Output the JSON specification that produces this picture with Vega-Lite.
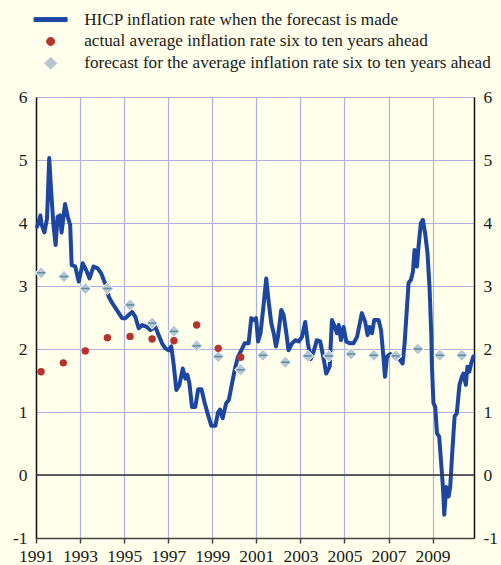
{
  "$schema": "https://vega.github.io/schema/vega-lite/v6.json",
  "autosize": {"type": "none"},
  "width": 438,
  "height": 441,
  "padding": {"left": 36, "right": 27, "top": 97, "bottom": 27},
  "background": "#FFFFEB",
  "config": {
    "view": {"stroke": null},
    "font": "Liberation Serif",
    "axis": {"labelFont": "Liberation Serif", "labelFontSize": 17.5, "labelColor": "#1a1a1a", "title": null}
  },
  "datasets": {
    "hicp": [
      {"t": 1991.05, "v": 3.94}, {"t": 1991.2, "v": 4.12}, {"t": 1991.26, "v": 3.97}, {"t": 1991.38, "v": 3.85},
      {"t": 1991.5, "v": 4.07}, {"t": 1991.6, "v": 5.03}, {"t": 1991.68, "v": 4.55}, {"t": 1991.79, "v": 3.97},
      {"t": 1991.89, "v": 3.65}, {"t": 1991.98, "v": 4.1}, {"t": 1992.09, "v": 4.12}, {"t": 1992.16, "v": 3.85},
      {"t": 1992.32, "v": 4.3}, {"t": 1992.44, "v": 4.1}, {"t": 1992.55, "v": 3.97}, {"t": 1992.62, "v": 3.33},
      {"t": 1992.78, "v": 3.31}, {"t": 1992.94, "v": 3.07}, {"t": 1993.12, "v": 3.36}, {"t": 1993.28, "v": 3.25},
      {"t": 1993.43, "v": 3.12}, {"t": 1993.61, "v": 3.31}, {"t": 1993.8, "v": 3.28}, {"t": 1993.96, "v": 3.2},
      {"t": 1994.07, "v": 3.1}, {"t": 1994.2, "v": 2.99}, {"t": 1994.3, "v": 2.83}, {"t": 1994.46, "v": 2.73},
      {"t": 1994.61, "v": 2.65}, {"t": 1994.76, "v": 2.57}, {"t": 1994.91, "v": 2.49}, {"t": 1995.06, "v": 2.49},
      {"t": 1995.21, "v": 2.54}, {"t": 1995.36, "v": 2.59}, {"t": 1995.51, "v": 2.51}, {"t": 1995.66, "v": 2.33},
      {"t": 1995.82, "v": 2.38}, {"t": 1996.04, "v": 2.35}, {"t": 1996.19, "v": 2.3}, {"t": 1996.42, "v": 2.35},
      {"t": 1996.57, "v": 2.22}, {"t": 1996.72, "v": 2.09}, {"t": 1996.87, "v": 2.01}, {"t": 1997.02, "v": 1.98},
      {"t": 1997.14, "v": 2.04}, {"t": 1997.25, "v": 1.75}, {"t": 1997.37, "v": 1.35}, {"t": 1997.51, "v": 1.43},
      {"t": 1997.66, "v": 1.69}, {"t": 1997.78, "v": 1.53}, {"t": 1997.87, "v": 1.59}, {"t": 1997.96, "v": 1.46},
      {"t": 1998.08, "v": 1.08}, {"t": 1998.23, "v": 1.08}, {"t": 1998.36, "v": 1.36}, {"t": 1998.51, "v": 1.36},
      {"t": 1998.66, "v": 1.14}, {"t": 1998.81, "v": 0.95}, {"t": 1998.96, "v": 0.78}, {"t": 1999.14, "v": 0.78},
      {"t": 1999.26, "v": 0.99}, {"t": 1999.35, "v": 1.04}, {"t": 1999.47, "v": 0.9}, {"t": 1999.63, "v": 1.14},
      {"t": 1999.75, "v": 1.19}, {"t": 1999.9, "v": 1.46}, {"t": 2000.05, "v": 1.72}, {"t": 2000.17, "v": 1.88},
      {"t": 2000.32, "v": 1.98}, {"t": 2000.47, "v": 2.09}, {"t": 2000.65, "v": 2.09}, {"t": 2000.77, "v": 2.49},
      {"t": 2000.88, "v": 2.46}, {"t": 2000.99, "v": 2.49}, {"t": 2001.08, "v": 2.12}, {"t": 2001.19, "v": 2.25},
      {"t": 2001.33, "v": 2.7}, {"t": 2001.45, "v": 3.12}, {"t": 2001.56, "v": 2.75}, {"t": 2001.68, "v": 2.41},
      {"t": 2001.79, "v": 2.25}, {"t": 2001.89, "v": 2.04}, {"t": 2001.98, "v": 2.19}, {"t": 2002.13, "v": 2.62},
      {"t": 2002.24, "v": 2.54}, {"t": 2002.35, "v": 2.28}, {"t": 2002.46, "v": 1.98}, {"t": 2002.62, "v": 2.09},
      {"t": 2002.77, "v": 2.14}, {"t": 2002.92, "v": 2.12}, {"t": 2003.07, "v": 2.19}, {"t": 2003.22, "v": 2.43},
      {"t": 2003.34, "v": 2.09}, {"t": 2003.47, "v": 1.84}, {"t": 2003.6, "v": 1.96}, {"t": 2003.75, "v": 2.14},
      {"t": 2003.9, "v": 2.12}, {"t": 2003.98, "v": 1.98}, {"t": 2004.08, "v": 1.8}, {"t": 2004.17, "v": 1.61},
      {"t": 2004.33, "v": 1.72}, {"t": 2004.43, "v": 2.46}, {"t": 2004.53, "v": 2.38}, {"t": 2004.66, "v": 2.25},
      {"t": 2004.74, "v": 2.38}, {"t": 2004.84, "v": 2.14}, {"t": 2004.96, "v": 2.35}, {"t": 2005.08, "v": 2.12},
      {"t": 2005.23, "v": 2.09}, {"t": 2005.41, "v": 2.09}, {"t": 2005.57, "v": 2.19}, {"t": 2005.79, "v": 2.57},
      {"t": 2005.94, "v": 2.43}, {"t": 2006.05, "v": 2.22}, {"t": 2006.14, "v": 2.35}, {"t": 2006.25, "v": 2.25},
      {"t": 2006.35, "v": 2.46}, {"t": 2006.55, "v": 2.46}, {"t": 2006.66, "v": 2.3}, {"t": 2006.75, "v": 1.95},
      {"t": 2006.84, "v": 1.56}, {"t": 2006.93, "v": 1.88}, {"t": 2007.08, "v": 1.92}, {"t": 2007.26, "v": 1.88},
      {"t": 2007.45, "v": 1.86}, {"t": 2007.64, "v": 1.77}, {"t": 2007.73, "v": 2.09}, {"t": 2007.83, "v": 2.62},
      {"t": 2007.91, "v": 3.05}, {"t": 2008.02, "v": 3.1}, {"t": 2008.11, "v": 3.23}, {"t": 2008.18, "v": 3.57},
      {"t": 2008.29, "v": 3.31}, {"t": 2008.36, "v": 3.62}, {"t": 2008.47, "v": 4.0}, {"t": 2008.56, "v": 4.05},
      {"t": 2008.66, "v": 3.84}, {"t": 2008.77, "v": 3.52}, {"t": 2008.86, "v": 2.99}, {"t": 2008.94, "v": 2.25},
      {"t": 2008.97, "v": 1.72}, {"t": 2009.04, "v": 1.14}, {"t": 2009.12, "v": 1.08}, {"t": 2009.2, "v": 0.66},
      {"t": 2009.3, "v": 0.61}, {"t": 2009.39, "v": 0.19}, {"t": 2009.47, "v": -0.19}, {"t": 2009.53, "v": -0.63},
      {"t": 2009.62, "v": -0.19}, {"t": 2009.73, "v": -0.34}, {"t": 2009.8, "v": -0.19}, {"t": 2009.9, "v": 0.4},
      {"t": 2010.0, "v": 0.93}, {"t": 2010.1, "v": 0.98}, {"t": 2010.22, "v": 1.43}, {"t": 2010.33, "v": 1.56},
      {"t": 2010.4, "v": 1.61}, {"t": 2010.51, "v": 1.43}, {"t": 2010.58, "v": 1.72}, {"t": 2010.67, "v": 1.64},
      {"t": 2010.75, "v": 1.77}, {"t": 2010.85, "v": 1.88}
    ],
    "actual": [
      {"t": 1991.23, "v": 1.64}, {"t": 1992.24, "v": 1.78}, {"t": 1993.24, "v": 1.97}, {"t": 1994.24, "v": 2.18},
      {"t": 1995.27, "v": 2.2}, {"t": 1996.27, "v": 2.16}, {"t": 1997.26, "v": 2.13}, {"t": 1998.29, "v": 2.38},
      {"t": 1999.27, "v": 2.01}, {"t": 2000.29, "v": 1.87}
    ],
    "forecast": [
      {"t": 1991.23, "v": 3.21}, {"t": 1992.27, "v": 3.15}, {"t": 1993.24, "v": 2.96}, {"t": 1994.24, "v": 2.96},
      {"t": 1995.27, "v": 2.7}, {"t": 1996.27, "v": 2.41}, {"t": 1997.26, "v": 2.28}, {"t": 1998.29, "v": 2.05},
      {"t": 1999.27, "v": 1.88}, {"t": 2000.29, "v": 1.67}, {"t": 2001.3, "v": 1.9}, {"t": 2002.32, "v": 1.79},
      {"t": 2003.33, "v": 1.89}, {"t": 2004.29, "v": 1.89}, {"t": 2005.3, "v": 1.92}, {"t": 2006.33, "v": 1.9},
      {"t": 2007.33, "v": 1.89}, {"t": 2008.33, "v": 2.0}, {"t": 2009.33, "v": 1.9}, {"t": 2010.33, "v": 1.9}
    ]
  },
  "encoding": {
    "x": {"type": "quantitative", "scale": {"domain": [1991, 2010.88], "nice": false, "zero": false}}
  },
  "layer": [
    {
      "data": {"name": "hicp"},
      "mark": {"type": "line", "strokeWidth": 4, "strokeJoin": "round", "strokeCap": "round"},
      "encoding": {
        "x": {"field": "t", "type": "quantitative",
          "axis": {"values": [1991, 1993, 1995, 1997, 1999, 2001, 2003, 2005, 2007, 2009], "format": "d",
            "labelFont": "Liberation Serif", "labelFontSize": 17.5, "labelColor": "#1a1a1a",
            "grid": true, "gridColor": "#ABB2DF", "gridWidth": 1.2, "domainColor": "#444444", "domainWidth": 1.5,
            "tickColor": "#444444", "tickWidth": 1.5, "tickSize": 5, "labelPadding": 4, "labelFlush": false, "labelOverlap": false}},
        "y": {"field": "v", "type": "quantitative", "scale": {"domain": [-1, 6], "nice": false, "zero": false},
          "axis": {"orient": "left", "values": [-1, 0, 1, 2, 3, 4, 5, 6], "labelExpr": "datum.value + ''",
            "grid": true, "gridColor": "#ABB2DF", "gridWidth": 1.2,
            "labelFont": "Liberation Serif", "labelFontSize": 17.5, "labelColor": "#1a1a1a",
            "ticks": false, "domainColor": "#111111", "domainWidth": 1.5, "labelPadding": 9}},
        "color": {"datum": "HICP inflation rate when the forecast is made", "type": "nominal",
          "scale": {
            "domain": ["HICP inflation rate when the forecast is made", "actual average inflation rate six to ten years ahead", "forecast for the average inflation rate six to ten years ahead"],
            "range": ["#1D46A2", "#B7332B", "#B6C7D2"]},
          "legend": {
            "title": null, "orient": "none", "legendX": 6, "legendY": -86, "padding": 0,
            "labelFont": "Liberation Serif", "labelFontSize": 17.2, "labelColor": "#1a1a1a", "labelLimit": 600,
            "labelOffset": 25, "rowPadding": 3.8, "symbolSize": 144,
            "encode": {"symbols": {"update": {
              "shape": {"signal": "datum.value == 'HICP inflation rate when the forecast is made' ? 'M-2.75,-0.33H2.75V0.33H-2.75Z' : datum.value == 'actual average inflation rate six to ten years ahead' ? 'M0.67,0A0.67,0.67 0 1 1 -0.67,0A0.67,0.67 0 1 1 0.67,0Z' : 'diamond'"},
              "fill": {"signal": "datum.value == 'HICP inflation rate when the forecast is made' ? '#1D46A2' : datum.value == 'actual average inflation rate six to ten years ahead' ? '#B7332B' : '#B6C7D2'"},
              "stroke": {"signal": "datum.value == 'forecast for the average inflation rate six to ten years ahead' ? '#ffffff' : 'transparent'"},
              "strokeWidth": {"value": 1},
              "size": {"value": 144},
              "opacity": {"value": 1},
              "fillOpacity": {"value": 1}
            }}}
          }}
      }
    },
    {
      "data": {"values": [{"z": 0}]},
      "mark": {"type": "rule", "color": "#333333", "strokeWidth": 1.5},
      "encoding": {"y": {"field": "z", "type": "quantitative", "axis": null}}
    },
    {
      "data": {"name": "forecast"},
      "mark": {"type": "point", "shape": "diamond", "filled": true, "size": 144, "stroke": "#ffffff", "strokeWidth": 1, "opacity": 1},
      "encoding": {
        "x": {"field": "t", "type": "quantitative"},
        "y": {"field": "v", "type": "quantitative",
          "axis": {"orient": "right", "values": [-1, 0, 1, 2, 3, 4, 5, 6], "labelExpr": "datum.value + ''",
            "grid": false, "ticks": false,
            "labelFont": "Liberation Serif", "labelFontSize": 17.5, "labelColor": "#1a1a1a",
            "domainColor": "#111111", "domainWidth": 1.5, "labelPadding": 9}},
        "color": {"datum": "forecast for the average inflation rate six to ten years ahead", "type": "nominal"}
      }
    },
    {
      "data": {"name": "forecast"},
      "mark": {"type": "point", "shape": "M-0.65,0H0.65", "filled": false, "size": 144, "stroke": "#5A8D9E", "strokeWidth": 1.5, "opacity": 1},
      "encoding": {
        "x": {"field": "t", "type": "quantitative"},
        "y": {"field": "v", "type": "quantitative", "axis": null}
      }
    },
    {
      "data": {"name": "actual"},
      "mark": {"type": "point", "shape": "circle", "filled": true, "size": 55, "opacity": 1},
      "encoding": {
        "x": {"field": "t", "type": "quantitative"},
        "y": {"field": "v", "type": "quantitative", "axis": null},
        "color": {"datum": "actual average inflation rate six to ten years ahead", "type": "nominal"}
      }
    }
  ],
  "resolve": {"axis": {"y": "independent"}}
}
